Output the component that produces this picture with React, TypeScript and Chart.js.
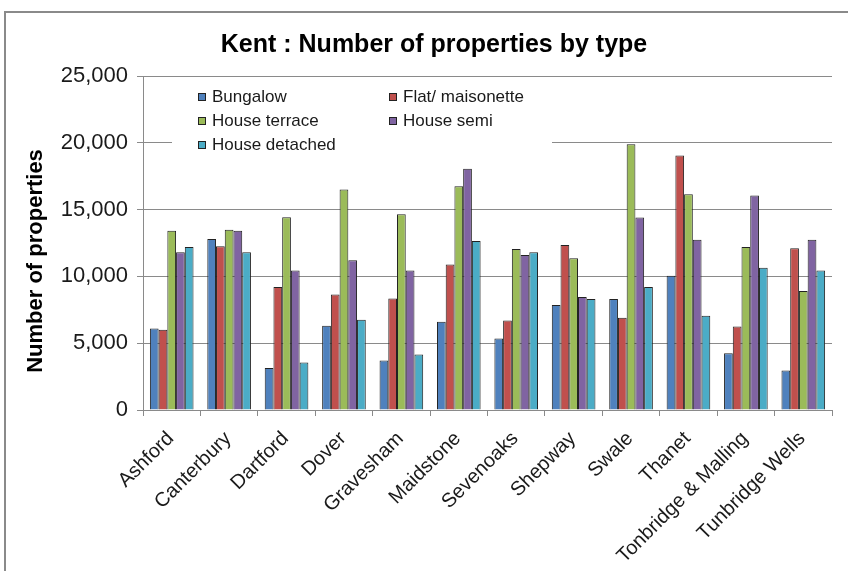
import React, { useEffect, useRef } from "react";
import { Chart, registerables } from "chart.js";

Chart.register(...registerables);

const categories = [
  "Ashford", "Canterbury", "Dartford", "Dover", "Gravesham", "Maidstone",
  "Sevenoaks", "Shepway", "Swale", "Thanet", "Tonbridge & Malling", "Tunbridge Wells",
];
const bungalow = [6100, 12800, 3150, 6300, 3700, 6600, 5350, 7850, 8300, 10050, 4250, 2950];
const flat = [6000, 12250, 9200, 8650, 8350, 10900, 6700, 12350, 6900, 19050, 6250, 12100];
const terrace = [13420, 13500, 14420, 16500, 14650, 16750, 12050, 11350, 19900, 16150, 12200, 8900];
const semi = [11800, 13420, 10450, 11200, 10450, 18050, 11600, 8450, 14400, 12750, 16050, 12750];
const detached = [12200, 11800, 3550, 6750, 4150, 12650, 11800, 8300, 9200, 7050, 10650, 10450];
const seriesNames = ["Bungalow", "Flat/ maisonette", "House terrace", "House semi", "House detached"];
const seriesColors = ["#4F81BD", "#C0504D", "#9BBB59", "#8064A2", "#4BACC6"];
const yTicks = [0, 5000, 10000, 15000, 20000, 25000];
const chartTitle = "Kent : Number of properties by type";
const yTitle = "Number of properties";

const FONT = "'Liberation Sans', Arial, sans-serif";

const framePlugin = {
  id: "frame",
  beforeDraw(chart: any) {
    const { ctx, width, height } = chart;
    ctx.save();
    ctx.fillStyle = "#ffffff";
    ctx.fillRect(0, 0, width, height);
    ctx.strokeStyle = "#8a8a8a";
    ctx.lineWidth = 2;
    ctx.beginPath();
    ctx.moveTo(5, height);
    ctx.lineTo(5, 12);
    ctx.lineTo(width, 12);
    ctx.stroke();
    // chart title
    ctx.fillStyle = "#000";
    ctx.font = `bold 25px ${FONT}`;
    ctx.textAlign = "center";
    ctx.textBaseline = "alphabetic";
    ctx.fillText(chartTitle, 434, 52);
    // y axis title
    ctx.translate(42, 261);
    ctx.rotate(-Math.PI / 2);
    ctx.font = `bold 22px ${FONT}`;
    ctx.textAlign = "center";
    ctx.fillText(yTitle, 0, 0);
    ctx.restore();
  },
};

const legendPlugin = {
  id: "customLegend",
  afterDatasetsDraw(chart: any) {
    const { ctx } = chart;
    ctx.save();
    ctx.fillStyle = "#ffffff";
    ctx.fillRect(172, 79, 380, 80);
    const cols = [198, 389];
    const rows = [97, 121, 145];
    ctx.font = `17px ${FONT}`;
    ctx.textBaseline = "middle";
    chart.data.datasets.forEach((ds: any, i: number) => {
      const x = cols[i % 2];
      const y = rows[Math.floor(i / 2)];
      ctx.fillStyle = ds.backgroundColor;
      ctx.fillRect(x, y - 4, 8, 8);
      ctx.strokeStyle = "#222";
      ctx.lineWidth = 1;
      ctx.strokeRect(x + 0.5, y - 3.5, 7, 7);
      ctx.fillStyle = "#1a1a1a";
      ctx.fillText(ds.label, x + 14, y);
    });
    ctx.restore();
  },
};

export default function App() {
  const ref = useRef<HTMLCanvasElement>(null);
  useEffect(() => {
    if (!ref.current) return;
    const data = [bungalow, flat, terrace, semi, detached];
    const chart = new Chart(ref.current, {
      type: "bar",
      data: {
        labels: categories,
        datasets: data.map((d, i) => ({
          label: seriesNames[i],
          data: d,
          backgroundColor: seriesColors[i],
          borderColor: "#222222",
          borderWidth: 1,
          categoryPercentage: 0.76,
          barPercentage: 1.0,
        })),
      },
      options: {
        responsive: false,
        animation: false,
        layout: { padding: { top: 76, left: 22, right: 16, bottom: 0 } },
        plugins: {
          legend: { display: false },
          tooltip: { enabled: false },
          title: { display: false },
        },
        scales: {
          x: {
            grid: { drawOnChartArea: false, drawTicks: true, tickLength: 6, color: "#8a8a8a", offset: true },
            border: { color: "#8a8a8a", width: 1 },
            ticks: {
              color: "#1a1a1a",
              font: { family: FONT, size: 20 },
              minRotation: 45,
              maxRotation: 45,
              autoSkip: false,
              padding: 11,
              labelOffset: -1,
            },
            afterFit(scale: any) {
              scale.height = 161;
            },
          },
          y: {
            min: 0,
            max: 25000,
            afterBuildTicks(scale: any) {
              scale.ticks = yTicks.map((v) => ({ value: v }));
            },
            grid: { color: "#8a8a8a", tickLength: 6, drawTicks: true },
            border: { color: "#8a8a8a", width: 1 },
            ticks: {
              color: "#1a1a1a",
              font: { family: FONT, size: 22 },
              padding: 9,
              callback: (v: any) => Number(v).toLocaleString("en-GB"),
            },
            title: { display: false },
            afterFit(scale: any) {
              scale.width = 121;
            },
          },
        },
      },
      plugins: [framePlugin, legendPlugin],
    });
    return () => chart.destroy();
  }, []);
  return (
    <div style={{ position: "fixed", left: 0, top: 0, width: 848, height: 571, background: "#fff" }}>
      <canvas ref={ref} width={848} height={571} style={{ display: "block" }} />
    </div>
  );
}
